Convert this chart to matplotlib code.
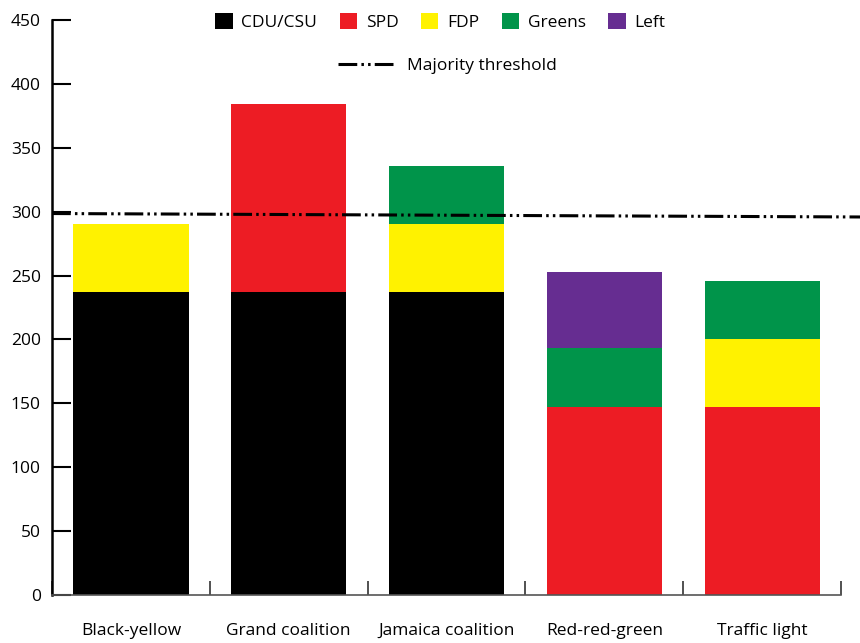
import numpy as np
import matplotlib
matplotlib.use("Agg")
import matplotlib.pyplot as plt
from matplotlib.patches import Patch
from matplotlib.lines import Line2D

plt.rcParams['font.family'] = ['Open Sans', 'DejaVu Sans']
plt.rcParams['lines.scale_dashes'] = False

coalitions = ["Black-yellow", "Grand coalition", "Jamaica coalition", "Red-red-green", "Traffic light"]
parties = ["CDU/CSU", "SPD", "FDP", "Greens", "Left"]
colors = ["#000000", "#ED1C24", "#FFF200", "#00944A", "#662D91"]

# seats per party in each coalition (rows = parties)
cdu = [237, 237, 237, 0, 0]
spd = [0, 147, 0, 147, 147]
fdp = [53, 0, 53, 0, 53]
greens = [0, 0, 46, 46, 46]
left = [0, 0, 0, 60, 0]
seats = [cdu, spd, fdp, greens, left]

# threshold line as drawn (slightly tilted in the original)
threshold_x = [-0.5, 4.62]
threshold_y = [298.5, 295.8]

dash_dot_dot = [13.5, 3.0, 1.8, 3.0, 1.8, 3.0]

fig = plt.figure(figsize=(8.6, 6.43), dpi=100)
ax = fig.add_axes([0.0605, 0.0747, 0.9175, 0.8943])

x = np.arange(len(coalitions))
bottom = np.zeros(len(coalitions))
for vals, c in zip(seats, colors):
    vals = np.array(vals)
    ax.bar(x, vals, width=0.73, bottom=bottom, color=c, linewidth=0)
    bottom += vals

ax.plot(threshold_x, threshold_y, color="black", linewidth=2.2,
        dashes=dash_dot_dot, clip_on=False, zorder=5)

ax.set_xlim(-0.5, 4.5)
ax.set_ylim(0, 450)
ax.set_yticks(np.arange(0, 451, 50))
ax.set_xticks(np.arange(-0.5, 4.6, 1))
ax.set_xticklabels([])
ax.set_xticks(x, minor=True)
ax.set_xticklabels(coalitions, minor=True)
ax.tick_params(axis="x", which="major", direction="in", length=10, width=1.2, color="#333333")
ax.tick_params(axis="x", which="minor", length=0, pad=20, labelsize=12.5)
ax.tick_params(axis="y", direction="in", length=14, width=1.5, pad=8, labelsize=12.5)

for s in ["top", "right"]:
    ax.spines[s].set_visible(False)
ax.spines["left"].set_linewidth(1.8)
ax.spines["bottom"].set_linewidth(1.2)
ax.spines["bottom"].set_color("#555555")

handles = [Patch(facecolor=c, label=p) for p, c in zip(parties, colors)]
fig.legend(handles=handles, loc="center", bbox_to_anchor=(0.512, 0.966), ncol=5,
           frameon=False, fontsize=12.5, handlelength=1.0, handleheight=1.0,
           columnspacing=1.3, handletextpad=0.5)
line_h = [Line2D([0], [0], color="black", linewidth=2.2, dashes=dash_dot_dot,
                 label="Majority threshold")]
fig.legend(handles=line_h, loc="center", bbox_to_anchor=(0.52, 0.898), frameon=False,
           fontsize=12.5, handlelength=3.2, handletextpad=0.8)

fig.savefig("out.png", dpi=100)
